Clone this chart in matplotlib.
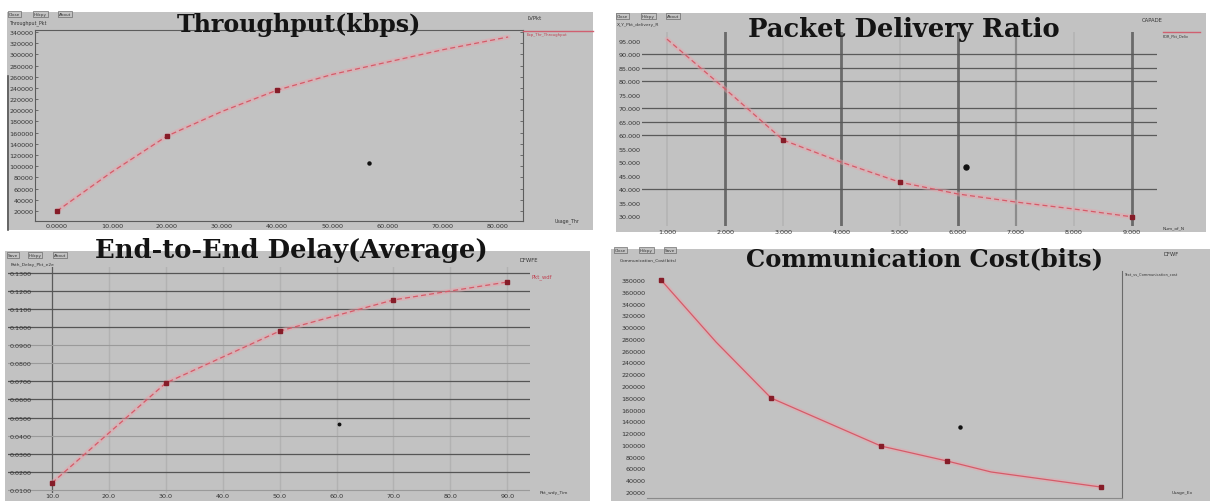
import matplotlib
matplotlib.use("Agg")
import matplotlib.pyplot as plt
from matplotlib.patches import Rectangle
from matplotlib.lines import Line2D

W, H = 1210, 502

# ---------------- data ----------------
# Throughput vs simulation time
thr_time = [0, 10, 20, 30, 40, 50, 60, 70, 82]
thr_kbps = [20000, 90000, 154000, 198000, 236000, 264000, 286000, 308000, 331000]
thr_marked = [0, 20, 40]
thr_xticks = [0, 10, 20, 30, 40, 50, 60, 70, 80]
thr_xlabels = ["0.0000", "10.000", "20.000", "30.000", "40.000",
               "50.000", "60.000", "70.000", "80.000"]
thr_yticks = [20000, 40000, 60000, 80000, 100000, 120000, 140000, 160000, 180000,
              200000, 220000, 240000, 260000, 280000, 300000, 320000, 340000]

# Packet delivery ratio vs number of nodes
pdr_nodes = [1, 2, 3, 4, 5, 6, 7, 8, 9]
pdr_ratio = [95.7, 77.2, 58.2, 50.0, 42.6, 38.2, 35.2, 32.6, 29.7]
pdr_marked = [3, 5, 9]
pdr_xticks = [1, 2, 3, 4, 5, 6, 7, 8, 9]
pdr_xlabels = ["1.000", "2.000", "3.000", "4.000", "5.000",
               "6.000", "7.000", "8.000", "9.000"]
pdr_yticks = [30, 35, 40, 45, 50, 55, 60, 65, 70, 75, 80, 85, 90, 95]

# End-to-end delay vs number of nodes
eed_nodes = [10, 30, 50, 70, 90]
eed_delay = [0.0139, 0.0691, 0.0978, 0.1150, 0.1249]
eed_xticks = [10, 20, 30, 40, 50, 60, 70, 80, 90]
eed_yticks = [0.010, 0.020, 0.030, 0.040, 0.050, 0.060, 0.070,
              0.080, 0.090, 0.100, 0.110, 0.120, 0.130]

# Communication cost vs number of nodes
cc_nodes = [10, 20, 30, 50, 62, 70, 90]
cc_bits = [380000, 274600, 179600, 98000, 72600, 54000, 28400]
cc_marked = [10, 30, 50, 62, 90]
cc_yticks = [20000, 40000, 60000, 80000, 100000, 120000, 140000, 160000, 180000, 200000,
             220000, 240000, 260000, 280000, 300000, 320000, 340000, 360000, 380000]

# ---------------- styling ----------------
PANEL = "#c2c2c2"
INK = "#333333"
FRAME = "#5c5c5c"
LINE_RED = "#d65a68"
GLOW = "#eaa2aa"
MARK = "#861c28"
TICK_FS = 4.6

fig = plt.figure(figsize=(W / 100, H / 100), dpi=100)
fig.patch.set_facecolor("white")


def fx(x):
    return x / W


def fy(y):
    return 1 - y / H


def rect(x0, y0, x1, y1):
    return [x0 / W, 1 - y1 / H, (x1 - x0) / W, (y1 - y0) / H]


def panel(x0, y0, x1, y1):
    fig.add_artist(Rectangle((fx(x0), fy(y1)), (x1 - x0) / W, (y1 - y0) / H,
                             transform=fig.transFigure, facecolor=PANEL,
                             edgecolor="none", zorder=-10))


def small(x, y, s, size=3.6, color=INK, ha="left", **kw):
    fig.text(fx(x), fy(y), s, fontsize=size, color=color, ha=ha, va="center",
             family="DejaVu Sans", zorder=6, **kw)


def seg(x0, y0, x1, y1, color, lw):
    fig.add_artist(Line2D([fx(x0), fx(x1)], [fy(y0), fy(y1)],
                          transform=fig.transFigure, color=color, lw=lw, zorder=2))


def buttons(x, y, names):
    for name in names:
        small(x, y, name, size=3.0,
              bbox=dict(boxstyle="square,pad=0.15", fc=PANEL, ec="#555555", lw=0.4))
        x += 4.2 * len(name) + 4


def cursor(x, y, ms):
    fig.add_artist(Line2D([fx(x)], [fy(y)], transform=fig.transFigure, ls="none",
                          marker="o", ms=ms, color="#111111", zorder=6))


titles = []


def title(cx, base, s, width):
    t = fig.text(fx(cx), fy(base), s, ha="center", va="baseline",
                 family="DejaVu Serif", weight="bold", fontsize=17,
                 color="#141414", zorder=20)
    titles.append((t, width))


def trace(ax, x, y, dashed=True):
    ax.plot(x, y, color=GLOW, lw=3.4, alpha=0.45, solid_capstyle="round", zorder=3)
    ax.plot(x, y, color=LINE_RED, lw=0.9,
            ls=(0, (4, 2.5)) if dashed else "-", zorder=4)


def marks(ax, xs, x, y, ms=2.6):
    mx = [v for v in xs]
    my = [y[x.index(v)] for v in xs]
    ax.plot(mx, my, ls="none", marker="s", ms=ms, color=MARK, zorder=5)


def base_axes(r):
    ax = fig.add_axes(r)
    ax.set_facecolor("none")
    ax.tick_params(axis="both", direction="in", length=0, labelsize=TICK_FS,
                   labelcolor=INK, pad=1.2)
    for sp in ax.spines.values():
        sp.set_visible(False)
    return ax


# ================= Throughput =================
panel(7, 13, 593, 231)
seg(7.5, 77, 7.5, 231, "#555555", 1.2)
ax1 = base_axes(rect(35, 31, 523, 222))
ax1.set_xlim(-4.0, 84.7)
ax1.set_ylim(2127, 343503)
for s in ("left", "top", "right", "bottom"):
    ax1.spines[s].set_visible(True)
    ax1.spines[s].set_color(FRAME)
    ax1.spines[s].set_linewidth(0.8)
ax1.set_xticks(thr_xticks, thr_xlabels)
ax1.set_yticks(thr_yticks, [str(v) for v in thr_yticks])
ax1.tick_params(axis="y", right=True, length=2, color=FRAME, width=0.6)
trace(ax1, thr_time, thr_kbps, dashed=True)
marks(ax1, thr_marked, thr_time, thr_kbps)
seg(523, 31.5, 593, 31.5, "#d06070", 1.0)
small(527, 35, "Exp_Thr_Throughput", size=2.8, color="#c04050")
small(528, 18, "LVPkt", size=3.8)
small(555, 221, "Usage_Thr", size=3.4)
buttons(9, 15, ["Close", "Hdcpy", "About"])
small(10, 23, "Throughput_Pkt", size=3.4)
cursor(369, 164, 2.2)
title(299, 32, "Throughput(kbps)", 244)

# ================= Packet Delivery Ratio =================
panel(616, 14, 1206, 233)
ax2 = base_axes(rect(642, 33, 1157, 227))
ax2.set_xlim(0.57, 9.43)
ax2.set_ylim(26.29, 98.35)
ax2.set_xticks(pdr_xticks, pdr_xlabels)
ax2.set_yticks(pdr_yticks, [f"{v:.3f}" for v in pdr_yticks])
ax2.tick_params(axis="x", pad=2.0)
for v, c, lw in [(1, "#b4b4b4", 1.2), (2, "#6a6a6a", 2.0), (3, "#b4b4b4", 1.2),
                 (4, "#6a6a6a", 2.0), (5, "#b4b4b4", 1.2), (6, "#6a6a6a", 2.0),
                 (7, "#8c8c8c", 1.6), (8, "#b4b4b4", 1.2), (9, "#6a6a6a", 2.0)]:
    ax2.axvline(v, color=c, lw=lw, zorder=1)
for v in (40, 60, 65, 70, 80, 85, 90):
    ax2.axhline(v, color="#5a5a5a", lw=0.9, zorder=1)
trace(ax2, pdr_nodes, pdr_ratio, dashed=True)
marks(ax2, pdr_marked, pdr_nodes, pdr_ratio, ms=2.2)
seg(1163, 33, 1200, 33, "#d06070", 1.0)
small(1163, 36, "PDR_Pkt_Deliv", size=2.6)
small(1142, 20, "CAPADE", size=3.8)
small(1163, 228, "Num_of_N", size=3.2)
buttons(617, 17, ["Close", "Hdcpy", "About"])
small(617, 25, "X_Y_Pkt_delivery_R", size=3.2)
cursor(966, 168, 3.6)
title(904, 37, "Packet Delivery Ratio", 312)

# ================= End-to-End Delay =================
panel(5, 252, 590, 502)
ax3 = base_axes(rect(8, 268, 530, 494))
ax3.set_xlim(2.27, 94.0)
ax3.set_ylim(0.00834, 0.1332)
ax3.set_xticks(eed_xticks, [f"{v}.0" for v in eed_xticks])
ax3.set_yticks(eed_yticks, [f"{v:.4f}" for v in eed_yticks])
ax3.tick_params(axis="y", pad=-1)
ax3.tick_params(axis="x", pad=0.3)
for lbl in ax3.get_yticklabels():
    lbl.set_horizontalalignment("left")
for v in eed_xticks:
    dark = v == eed_xticks[0]
    ax3.axvline(v, color="#5a5a5a" if dark else "#b2b2b2",
                lw=0.9 if dark else 1.0, zorder=1)
for v, dark in zip(eed_yticks, [False, True, True, False, True, True, True,
                                False, False, True, True, True, True]):
    ax3.axhline(v, color="#555555" if dark else "#9a9a9a",
                lw=0.9 if dark else 0.8, zorder=1)
trace(ax3, eed_nodes, eed_delay, dashed=True)
marks(ax3, eed_nodes, eed_nodes, eed_delay, ms=2.4)
small(532, 277, "Pkt_wdf", size=3.8, color="#c04050")
small(520, 260, "DFWFE", size=3.8)
small(540, 493, "Pkt_wdy_Tim", size=3.2)
buttons(8, 256, ["Save", "Hdcpy", "About"])
small(11, 265, "Path_Delay_Pkt_e2e", size=3.2)
cursor(339, 425, 1.8)
title(291, 258, "End-to-End Delay(Average)", 394)

# ================= Communication Cost =================
panel(611, 250, 1210, 502)
ax4 = base_axes(rect(647, 272, 1122, 499))
ax4.set_xlim(7.45, 93.8)
ax4.set_ylim(9813, 395212)
ax4.set_xticks([])
ax4.set_yticks(cc_yticks, [str(v) for v in cc_yticks])
ax4.spines["right"].set_visible(True)
ax4.spines["right"].set_color("#6a6a6a")
ax4.spines["right"].set_linewidth(0.8)
ax4.spines["bottom"].set_visible(True)
ax4.spines["bottom"].set_color("#8a8a8a")
ax4.spines["bottom"].set_linewidth(0.8)
trace(ax4, cc_nodes, cc_bits, dashed=False)
marks(ax4, cc_marked, cc_nodes, cc_bits, ms=2.4)
small(1124, 274, "Text_vs_Communication_cost", size=2.6)
small(1163, 255, "DFWF", size=3.8)
small(1172, 493, "Usage_Ex", size=3.2)
buttons(615, 251, ["Close", "Hdcpy", "Save"])
small(620, 260, "Communication_Cost(bits)", size=3.2)
cursor(960, 428, 2.2)
title(925, 266, "Communication Cost(bits)", 357)

# size each title so it spans its panel header
fig.canvas.draw()
renderer = fig.canvas.get_renderer()
for t, width in titles:
    bb = t.get_window_extent(renderer)
    t.set_fontsize(t.get_fontsize() * width / bb.width)

fig.savefig("out.png", dpi=100, facecolor="white")
